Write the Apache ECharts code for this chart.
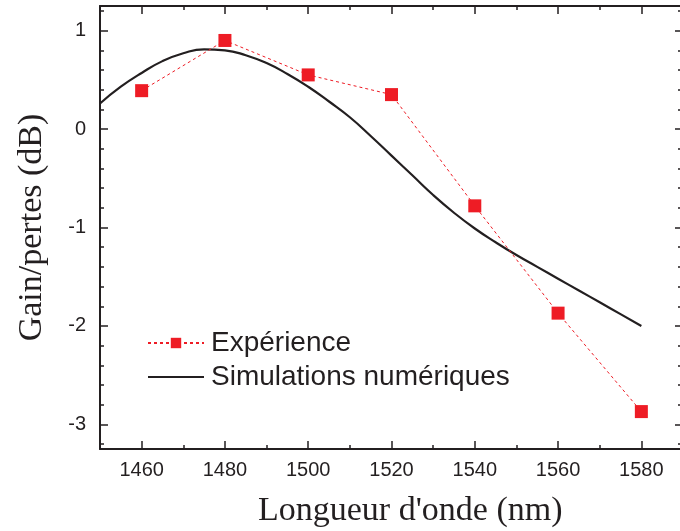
<!DOCTYPE html>
<html><head><meta charset="utf-8">
<script src="https://cdn.jsdelivr.net/npm/echarts@6/dist/echarts.min.js"></script>
<style>html,body{margin:0;padding:0;background:#fff}#c{width:680px;height:531px}</style>
</head><body><div id="c"></div>
<script>
const expX = [1460, 1480, 1500, 1520, 1540, 1560, 1580];
const expY = [0.39, 0.90, 0.55, 0.35, -0.78, -1.87, -2.87];
const simX = [1450,1455,1460,1465,1470,1475,1480,1485,1490,1495,1500,1505,1510,1515,1520,1525,1530,1535,1540,1545,1550,1555,1560,1565,1570,1575,1580];
const simY = [0.26,0.43,0.57,0.69,0.77,0.81,0.80,0.75,0.67,0.56,0.43,0.28,0.12,-0.07,-0.27,-0.47,-0.67,-0.85,-1.01,-1.15,-1.28,-1.40,-1.52,-1.64,-1.76,-1.88,-2.00];
const xMajor = [1460,1480,1500,1520,1540,1560,1580];
const xMinor = [1450,1470,1490,1510,1530,1550,1570,1590];
const yMajor = [-3,-2,-1,0,1];
const yMinor = [-3.2,-2.8,-2.6,-2.4,-2.2,-1.8,-1.6,-1.4,-1.2,-0.8,-0.6,-0.4,-0.2,0.2,0.4,0.6,0.8,1.2];
const seriesNames = ['Expérience', 'Simulations numériques'];
const xTitle = "Longueur d'onde (nm)";
const yTitle = 'Gain/pertes (dB)';

const ink = '#231f20';
const red = '#ee1c25';
const chart = echarts.init(document.getElementById('c'));
function xa(pos, ticks, len, showLine, showLabel) {
  return {
    type: 'value', position: pos, offset: 0, min: 1450, max: 1590,
    axisLine: {show: showLine, onZero: false, lineStyle: {color: ink, width: 2}},
    axisTick: {show: true, inside: true, length: len, customValues: ticks, lineStyle: {color: ink, width: 1.5}},
    axisLabel: {show: showLabel, customValues: xMajor, margin: 11, color: ink, fontFamily: 'Liberation Sans', fontSize: 20, formatter: v => String(v)},
    splitLine: {show: false}
  };
}
function ya(pos, ticks, len, showLine, showLabel) {
  return {
    type: 'value', position: pos, offset: 0, min: -3.25, max: 1.25,
    axisLine: {show: showLine, onZero: false, lineStyle: {color: ink, width: 2}},
    axisTick: {show: true, inside: true, length: len, customValues: ticks, lineStyle: {color: ink, width: 1.5}},
    axisLabel: {show: showLabel, customValues: yMajor, margin: 14, color: ink, fontFamily: 'Liberation Sans', fontSize: 20, formatter: v => String(v)},
    splitLine: {show: false}
  };
}
const yAxes = [ya('left', yMajor, 8, true, true), ya('left', yMinor, 4, false, false), ya('right', yMajor, 8, true, false), ya('right', yMinor, 5, false, false)];
yAxes[0].name = yTitle;
yAxes[0].nameLocation = 'middle';
yAxes[0].nameGap = 51;
yAxes[0].nameTextStyle = {fontFamily: 'Liberation Serif', fontSize: 34, color: ink};
chart.setOption({
  animation: false,
  backgroundColor: '#fff',
  grid: {left: 100, top: 6, width: 583, height: 443, containLabel: false, outerBoundsMode: 'none'},
  xAxis: [xa('bottom', xMajor, 8, true, true), xa('bottom', xMinor, 4, false, false), xa('top', xMajor, 8, true, false), xa('top', xMinor, 4, false, false)],
  yAxis: yAxes,
  legend: {
    left: 142, top: 324, orient: 'vertical', itemGap: 6, itemWidth: 56, itemHeight: 13,
    textStyle: {fontFamily: 'Liberation Sans', fontSize: 28, color: ink, padding: [0, 0, 0, 2]},
    data: [{name: seriesNames[0]}, {name: seriesNames[1], itemStyle: {opacity: 0}}]
  },
  graphic: [{type: 'text', left: 258, top: 494, style: {text: xTitle, font: '34px "Liberation Serif"', fill: ink}}],
  series: [
    {name: seriesNames[0], type: 'line', xAxisIndex: 0, yAxisIndex: 0,
     data: expX.map((x, i) => [x, expY[i]]),
     symbol: 'rect', symbolSize: 13, itemStyle: {color: red},
     lineStyle: {color: red, width: 1, type: [3, 3]}, z: 3},
    {name: seriesNames[1], type: 'line', xAxisIndex: 0, yAxisIndex: 0,
     data: simX.map((x, i) => [x, simY[i]]),
     smooth: true, symbol: 'none',
     lineStyle: {color: ink, width: 2.2}, itemStyle: {color: ink}, z: 2}
  ]
});
</script></body></html>
